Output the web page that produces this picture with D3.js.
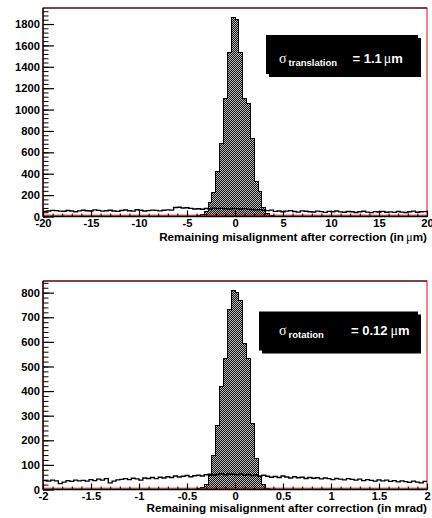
<!DOCTYPE html>
<html>
<head>
<meta charset="utf-8">
<script src="https://cdn.jsdelivr.net/npm/d3@7"></script>
<style>
  html, body { margin: 0; padding: 0; background: #fff; }
  svg { display: block; }
</style>
</head>
<body>
<script>
// ---------- translation residuals (µm): 100 bins over [-20, 20] ----------
const transRange = [-20, 20];
const transBinCount = 100;
// before correction (open outline)
const transBefore = [
  48, 52, 57, 55, 50, 49, 56, 52, 45, 53,
  58, 54, 51, 62, 57, 50, 54, 59, 52, 48,
  56, 61, 54, 50, 63, 58, 52, 55, 60, 57,
  53, 59, 62, 60, 84, 86, 80, 82, 76, 70,
  72, 68, 75, 70, 78, 74, 76, 72, 70, 75,
  73, 70, 74, 68, 66, 62, 64, 58, 55, 60,
  48, 52, 44, 50, 55, 47, 41, 53, 49, 45,
  42, 50, 46, 39, 48, 44, 52, 43, 40, 47,
  45, 38, 44, 49, 41, 36, 46, 42, 48, 40,
  43, 39, 47, 41, 37, 45, 50, 40, 44, 46
];
// after correction (filled), non-empty bins starting at bin index transAfterStart
const transAfterStart = 38;
const transAfter = [2, 4, 8, 20, 45, 128, 225, 418, 683, 1102, 1537, 1857,
                    1845, 1537, 1102, 1060, 732, 324, 231, 80, 25, 8, 3];
const transXTicks = [-20, -15, -10, -5, 0, 5, 10, 15, 20];
const transXTickLabels = ["-20", "-15", "-10", "-5", "0", "5", "10", "15", "20"];
const transYTicks = [0, 200, 400, 600, 800, 1000, 1200, 1400, 1600, 1800];
const transYTickLabels = ["0", "200", "400", "600", "800", "1000", "1200", "1400", "1600", "1800"];

// ---------- rotation residuals (mrad): 100 bins over [-2, 2] ----------
const rotRange = [-2, 2];
const rotBinCount = 100;
const rotBefore = [
  36, 34, 38, 35, 24, 30, 36, 33, 38, 35,
  37, 34, 40, 36, 42, 38, 44, 27, 34, 39,
  41, 44, 40, 46, 43, 38, 47, 45, 49, 44,
  50, 47, 52, 49, 55, 51, 54, 57, 52, 56,
  58, 55, 60, 62, 59, 61, 64, 60, 63, 62,
  60, 63, 58, 61, 57, 59, 55, 58, 54, 50,
  53, 49, 55, 51, 47, 52, 48, 50, 45, 49,
  46, 48, 43, 47, 44, 40, 45, 42, 39, 44,
  41, 38, 42, 36, 40, 37, 34, 39, 35, 38,
  33, 36, 31, 35, 32, 29, 34, 30, 27, 33
];
const rotAfterStart = 40;
const rotAfter = [3, 8, 22, 58, 140, 262, 417, 533, 732, 807,
                  800, 770, 594, 533, 269, 126, 51, 20, 6];
const rotXTicks = [-2, -1.5, -1, -0.5, 0, 0.5, 1, 1.5, 2];
const rotXTickLabels = ["-2", "-1.5", "-1", "-0.5", "0", "0.5", "1", "1.5", "2"];
const rotYTicks = [0, 100, 200, 300, 400, 500, 600, 700, 800];
const rotYTickLabels = ["0", "100", "200", "300", "400", "500", "600", "700", "800"];

const W = 432, H = 518;
const SANS = "'Liberation Sans', Arial, Helvetica, sans-serif";
const SERIF = "'Liberation Serif', 'Times New Roman', serif";

const svg = d3.select("body").append("svg")
  .attr("width", W).attr("height", H)
  .attr("viewBox", `0 0 ${W} ${H}`);

// dotted fill used for the corrected distribution
const defs = svg.append("defs");
const pat = defs.append("pattern")
  .attr("id", "dots").attr("patternUnits", "userSpaceOnUse")
  .attr("width", 2).attr("height", 2);
pat.append("rect").attr("width", 2).attr("height", 2).attr("fill", "#111");
pat.append("rect").attr("x", 0).attr("y", 0).attr("width", 1).attr("height", 1).attr("fill", "#bdbdbd");
pat.append("rect").attr("x", 1).attr("y", 1).attr("width", 1).attr("height", 1).attr("fill", "#bdbdbd");

function drawPanel(cfg) {
  const { box, range, nBins, before, after, afterStart,
          xTicks, xLabels, xMinorStep, yTicks, yLabels, yMinorStep,
          title, titleUnit, legend } = cfg;

  const g = svg.append("g");
  const edges = d3.range(nBins + 1).map(i => range[0] + i * (range[1] - range[0]) / nBins);
  const yMax = d3.max(after) * 1.05;

  const x = d3.scaleLinear().domain(range).range([box.left, box.right]);
  const y = d3.scaleLinear().domain([0, yMax]).range([box.bottom, box.top]);

  // frame
  g.append("rect")
    .attr("x", box.left).attr("y", box.top)
    .attr("width", box.right - box.left).attr("height", box.bottom - box.top)
    .attr("fill", "none").attr("stroke", "#cc1111").attr("stroke-width", 1);
  g.append("line")
    .attr("x1", box.left).attr("x2", box.right)
    .attr("y1", box.top).attr("y2", box.top)
    .attr("stroke", "#1a0000").attr("stroke-width", 1);

  // corrected distribution: filled step histogram
  const afterPts = [[edges[afterStart], 0]];
  after.forEach((v, i) => {
    afterPts.push([edges[afterStart + i], v]);
    afterPts.push([edges[afterStart + i + 1], v]);
  });
  afterPts.push([edges[afterStart + after.length], 0]);
  const lineXY = d3.line().x(d => x(d[0])).y(d => y(d[1]));
  g.append("path")
    .attr("d", lineXY(afterPts) + "Z")
    .attr("fill", "url(#dots)")
    .attr("stroke", "#000").attr("stroke-width", 1)
    .attr("shape-rendering", "crispEdges");

  // zero line
  g.append("line")
    .attr("x1", box.left).attr("x2", box.right)
    .attr("y1", y(0) - 1.3).attr("y2", y(0) - 1.3)
    .attr("stroke", "#dd1111").attr("stroke-width", 1);

  // uncorrected distribution: open step outline
  const beforePts = before.map((v, i) => [edges[i], v]);
  beforePts.push([edges[nBins], before[nBins - 1]]);
  g.append("path")
    .attr("d", d3.line().curve(d3.curveStepAfter).x(d => x(d[0])).y(d => y(d[1]))(beforePts))
    .attr("fill", "none").attr("stroke", "#000").attr("stroke-width", 1.4);

  // y axis
  const yMinor = d3.range(0, yMax, yMinorStep);
  g.append("g").attr("transform", `translate(${box.left},0)`)
    .call(d3.axisLeft(y).tickValues(yMinor).tickSizeInner(-5.5).tickSizeOuter(0).tickFormat(""))
    .call(a => a.select(".domain").remove())
    .call(a => a.selectAll("line").attr("stroke", "#000").attr("stroke-width", 1));
  g.append("g").attr("transform", `translate(${box.left},0)`)
    .call(d3.axisLeft(y).tickValues(yTicks).tickSizeInner(-11).tickSizeOuter(0).tickPadding(3)
      .tickFormat((d, i) => yLabels[i]))
    .call(a => a.select(".domain").remove())
    .call(a => a.selectAll("line").attr("stroke", "#000").attr("stroke-width", 1.2))
    .call(a => a.selectAll("text")
      .attr("font-family", SANS).attr("font-weight", "bold")
      .attr("font-size", 11.2).attr("fill", "#000"));
  g.append("line")
    .attr("x1", box.left).attr("x2", box.left)
    .attr("y1", box.top).attr("y2", box.bottom)
    .attr("stroke", "#000").attr("stroke-width", 1.3);

  // x axis
  const step = xMinorStep;
  const xMinor = d3.range(Math.round((range[1] - range[0]) / step) + 1).map(i => range[0] + i * step);
  g.append("g").attr("transform", `translate(0,${box.bottom})`)
    .call(d3.axisBottom(x).tickValues(xMinor).tickSizeInner(-3).tickSizeOuter(0).tickFormat(""))
    .call(a => a.select(".domain").remove())
    .call(a => a.selectAll("line").attr("stroke", "#000").attr("stroke-width", 1));
  g.append("g").attr("transform", `translate(0,${box.bottom})`)
    .call(d3.axisBottom(x).tickValues(xTicks).tickSizeInner(-6).tickSizeOuter(0).tickPadding(3)
      .tickFormat((d, i) => xLabels[i]))
    .call(a => a.select(".domain").remove())
    .call(a => a.selectAll("line").attr("stroke", "#000").attr("stroke-width", 1.2))
    .call(a => a.selectAll("text")
      .attr("font-family", SANS).attr("font-weight", "bold")
      .attr("font-size", 11.2).attr("fill", "#000"));
  g.append("line")
    .attr("x1", box.left).attr("x2", box.right)
    .attr("y1", box.bottom).attr("y2", box.bottom)
    .attr("stroke", "#000").attr("stroke-width", 1.3);

  // axis title
  const t = g.append("text")
    .attr("x", box.right).attr("y", box.bottom + cfg.titleDy)
    .attr("text-anchor", "end")
    .attr("font-family", SANS).attr("font-weight", "bold")
    .attr("font-size", 11.7).attr("fill", "#000");
  t.append("tspan").text(title);
  if (titleUnit === "um") {
    t.append("tspan").attr("dx", 2).attr("font-family", SERIF).attr("font-weight", "normal").attr("font-size", 12.5).text("μ");
    t.append("tspan").text("m)");
  }

  // sigma box with shadow
  const L = legend;
  g.append("rect").attr("x", L.x + 3).attr("y", L.y + 3).attr("width", L.w).attr("height", L.h).attr("fill", "#000");
  g.append("rect").attr("x", L.x).attr("y", L.y).attr("width", L.w).attr("height", L.h).attr("fill", "#000");
  const lt = g.append("text")
    .attr("x", 279).attr("y", L.base)
    .attr("fill", "#fff").attr("font-family", SANS).attr("font-weight", "bold").attr("font-size", 13);
  lt.append("tspan").attr("font-family", SERIF).attr("font-weight", "normal").attr("font-size", 14).text("σ");
  lt.append("tspan").attr("dx", 2).attr("dy", 3).attr("font-size", 9.5).text(L.sub);
  lt.append("tspan").attr("x", L.eqX).attr("dy", -3).text(L.value);
  lt.append("tspan").attr("dx", L.muGap).attr("font-family", SERIF).attr("font-weight", "normal").attr("font-size", 14).text("μ");
  lt.append("tspan").text("m");
}

drawPanel({
  box: { left: 43, right: 427, top: 8, bottom: 216.5 },
  range: transRange, nBins: transBinCount,
  before: transBefore, after: transAfter, afterStart: transAfterStart,
  xTicks: transXTicks, xLabels: transXTickLabels, xMinorStep: 1,
  yTicks: transYTicks, yLabels: transYTickLabels, yMinorStep: 40,
  title: "Remaining misalignment after correction (in", titleUnit: "um", titleDy: 24,
  legend: { x: 266, y: 35, w: 152, h: 39, base: 63, sub: "translation", eqX: 352.5, value: "= 1.1", muGap: 2 }
});

drawPanel({
  box: { left: 43, right: 427, top: 281, bottom: 489.5 },
  range: rotRange, nBins: rotBinCount,
  before: rotBefore, after: rotAfter, afterStart: rotAfterStart,
  xTicks: rotXTicks, xLabels: rotXTickLabels, xMinorStep: 0.1,
  yTicks: rotYTicks, yLabels: rotYTickLabels, yMinorStep: 20,
  title: "Remaining misalignment after correction (in mrad)", titleUnit: "", titleDy: 22.5,
  legend: { x: 259, y: 311.5, w: 159, h: 39, base: 335, sub: "rotation", eqX: 351, value: "= 0.12", muGap: 3 }
});
</script>
</body>
</html>
